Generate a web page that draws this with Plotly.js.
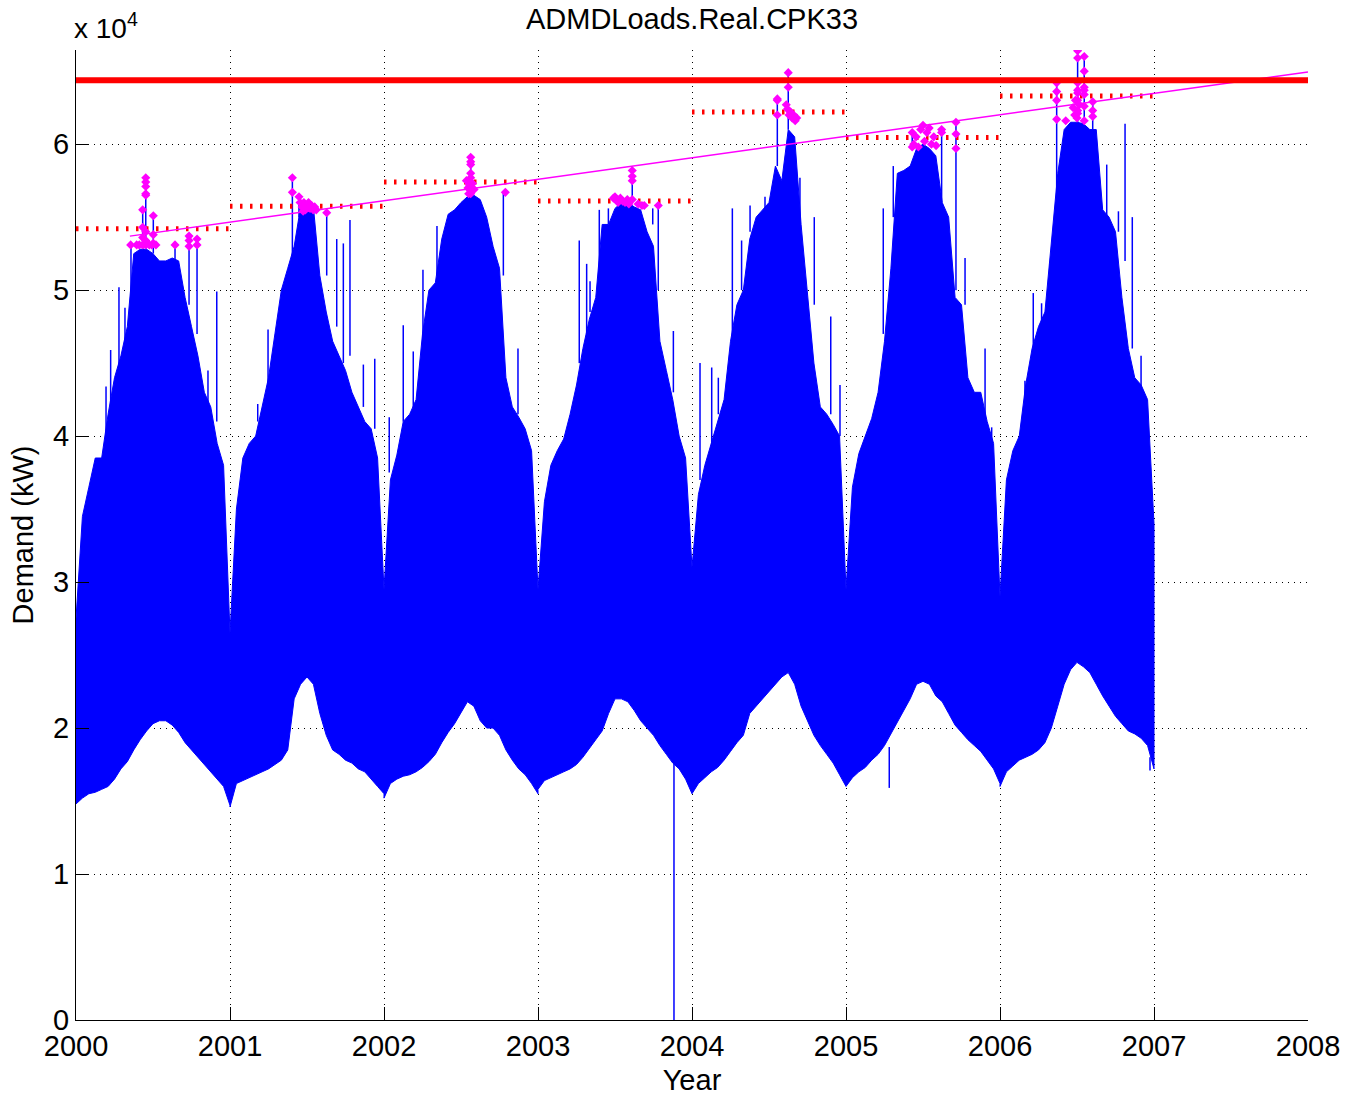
<!DOCTYPE html>
<html>
<head>
<meta charset="utf-8">
<script src="https://cdn.plot.ly/plotly-3.0.1.min.js"></script>
<style>
html,body{margin:0;padding:0;background:#fff;}
#chart{width:1345px;height:1096px;}
</style>
</head>
<body>
<div id="chart"></div>
<script>
// Values in units of 10^4 kW, sampled every 1/24 year (k = 0..24) per year
const years = [2000, 2001, 2002, 2003, 2004, 2005, 2006];

const hi2000 = [2.75,3.45,3.65,3.85,3.85,4.15,4.4,4.55,4.75,5.25,5.28,5.28,5.25,5.2,5.2,5.22,5.2,4.95,4.75,4.55,4.3,4.2,3.95,3.8,2.65];
const lo2000 = [1.48,1.52,1.55,1.56,1.58,1.6,1.65,1.72,1.77,1.85,1.92,1.98,2.03,2.05,2.05,2.02,1.97,1.9,1.85,1.8,1.75,1.7,1.65,1.6,1.47];
const hi2001 = [2.65,3.5,3.85,3.95,4.0,4.2,4.4,4.7,5.0,5.15,5.3,5.57,5.58,5.57,5.1,4.85,4.65,4.55,4.45,4.3,4.2,4.1,4.05,3.85,2.95];
const lo2001 = [1.46,1.62,1.64,1.66,1.68,1.7,1.72,1.75,1.78,1.85,2.2,2.3,2.35,2.3,2.1,1.95,1.85,1.82,1.78,1.76,1.72,1.7,1.65,1.6,1.55];
const hi2002 = [2.95,3.7,3.87,4.1,4.15,4.25,4.7,5.0,5.05,5.35,5.52,5.55,5.6,5.64,5.65,5.62,5.5,5.3,5.15,4.4,4.2,4.13,4.05,3.9,2.95];
const lo2002 = [1.52,1.62,1.65,1.67,1.68,1.7,1.73,1.77,1.82,1.9,1.97,2.03,2.1,2.18,2.15,2.05,2.0,2.0,1.95,1.85,1.78,1.72,1.68,1.62,1.55];
const hi2003 = [2.95,3.55,3.8,3.9,3.98,4.15,4.35,4.6,4.8,4.95,5.45,5.45,5.56,5.6,5.6,5.57,5.55,5.4,5.3,4.65,4.45,4.25,4.0,3.85,3.1];
const lo2003 = [1.58,1.64,1.66,1.68,1.7,1.72,1.75,1.8,1.86,1.92,1.98,2.1,2.2,2.2,2.18,2.12,2.05,2.0,1.95,1.88,1.82,1.76,1.72,1.65,1.55];
const hi2004 = [3.1,3.6,3.8,3.95,4.1,4.25,4.65,4.9,5.0,5.35,5.5,5.55,5.6,5.85,5.75,6.1,6.05,5.45,5.0,4.5,4.2,4.15,4.08,4.0,2.95];
const lo2004 = [1.55,1.62,1.66,1.7,1.73,1.78,1.84,1.9,1.95,2.1,2.15,2.2,2.25,2.3,2.35,2.38,2.3,2.15,2.05,1.95,1.88,1.82,1.76,1.68,1.6];
const hi2005 = [2.95,3.65,3.88,4.0,4.12,4.3,4.65,5.15,5.8,5.82,5.85,5.97,6.0,5.97,5.92,5.6,5.5,4.95,4.9,4.4,4.3,4.3,4.1,3.95,2.9];
const lo2005 = [1.6,1.66,1.7,1.73,1.78,1.82,1.88,1.96,2.05,2.12,2.2,2.3,2.32,2.3,2.22,2.18,2.1,2.02,1.97,1.92,1.88,1.84,1.78,1.72,1.62];
const hi2006 = [2.9,3.7,3.9,4.0,4.35,4.6,4.75,4.85,5.35,5.8,6.1,6.15,6.15,6.14,6.1,6.1,5.55,5.5,5.4,4.95,4.6,4.4,4.35,4.25,3.4];
const lo2006 = [1.6,1.7,1.74,1.78,1.8,1.82,1.85,1.9,2.0,2.15,2.3,2.4,2.45,2.42,2.38,2.3,2.22,2.15,2.08,2.03,1.98,1.96,1.93,1.88,1.72];

// Isolated spikes (decimal year, from value, to value)
const spikeX    = [2000.195,2000.225,2000.279,2000.318,2000.357,2000.433,2000.453,2000.502,2000.643,2000.734,2000.786,2000.857,2000.914,
                   2001.18,2001.247,2001.325,2001.405,2001.448,2001.628,2001.693,2001.736,2001.779,2001.866,2001.94,
                   2002.034,2002.125,2002.19,2002.253,2002.344,2002.563,2002.775,2002.87,
                   2003.268,2003.316,2003.338,2003.398,2003.457,2003.612,2003.745,2003.781,2003.879,2003.883,
                   2004.052,2004.128,2004.171,2004.262,2004.322,2004.377,2004.474,2004.554,2004.625,2004.701,2004.794,2004.901,2004.961,
                   2005.242,2005.281,2005.307,2005.43,2005.621,2005.714,2005.773,2005.903,2005.946,
                   2006.162,2006.216,2006.27,2006.325,2006.368,2006.504,2006.547,2006.602,2006.693,2006.769,2006.812,2006.859,2006.916,2006.974];
const spikeBase = [4.0,4.1,4.4,4.6,4.8,5.25,5.28,5.25,5.2,4.9,4.7,4.2,4.1,
                   4.1,4.35,4.7,5.2,5.5,5.1,4.75,4.5,4.55,4.2,4.05,
                   3.75,4.1,4.2,4.6,5.1,5.62,5.1,4.15,
                   4.5,4.7,4.85,4.95,5.45,5.6,5.45,5.0,4.3,1.85,
                   3.7,3.9,4.15,4.6,5.0,5.4,5.55,5.85,6.1,5.4,4.9,4.15,4.0,
                   4.7,1.87,5.5,5.97,5.6,5.0,4.9,4.1,3.95,
                   4.2,4.6,4.75,4.85,5.5,6.15,6.15,6.1,5.5,5.4,5.2,4.6,4.3,1.8];
const spikeTop  = [4.34,4.59,5.02,4.88,5.31,5.55,5.77,5.51,5.31,5.37,5.35,4.45,4.99,
                   4.22,4.73,4.85,5.77,5.64,5.53,5.35,5.32,5.48,4.49,4.53,
                   4.13,4.76,4.58,5.14,5.44,5.91,5.67,4.6,
                   5.34,5.18,5.06,5.55,5.56,5.82,5.56,5.58,4.72,0,
                   4.5,4.47,4.4,5.56,5.34,5.58,5.64,6.31,6.49,5.77,5.5,4.82,4.35,
                   5.56,1.59,5.85,6.08,6.1,6.15,5.22,4.6,4.06,
                   4.38,4.98,4.91,5.18,6.42,6.64,6.6,6.29,5.86,5.54,6.14,5.5,4.55,1.71];

// Highlighted peak points (magenta)
const markX = [2000.355,2000.394,2000.411,2000.433,2000.433,2000.433,2000.433,2000.453,2000.453,2000.453,2000.453,2000.453,2000.453,2000.453,2000.453,2000.476,2000.492,2000.502,2000.502,2000.502,2000.519,2000.643,2000.734,2000.734,2000.734,2000.786,2000.786,
  2001.405,2001.405,2001.448,2001.455,2001.468,2001.475,2001.48,2001.49,2001.5,2001.51,2001.52,2001.53,2001.54,2001.55,2001.56,2001.628,
  2002.563,2002.563,2002.563,2002.563,2002.563,2002.563,2002.563,2002.563,2002.563,2002.535,2002.545,2002.55,2002.555,2002.57,2002.575,2002.585,2002.788,
  2003.49,2003.5,2003.51,2003.52,2003.535,2003.55,2003.565,2003.58,2003.59,2003.612,2003.612,2003.612,2003.612,2003.65,2003.675,2003.69,2003.781,
  2004.554,2004.554,2004.554,2004.625,2004.625,2004.612,2004.62,2004.63,2004.64,2004.65,2004.66,2004.67,2004.68,
  2005.43,2005.43,2005.44,2005.455,2005.47,2005.485,2005.5,2005.51,2005.525,2005.54,2005.555,2005.57,2005.585,2005.621,2005.621,2005.714,2005.714,2005.714,
  2006.368,2006.368,2006.368,2006.368,2006.427,2006.504,2006.504,2006.504,2006.504,2006.504,2006.504,2006.504,2006.504,2006.475,2006.485,2006.49,2006.5,2006.515,2006.547,2006.547,2006.547,2006.547,2006.547,2006.547,2006.547,2006.602,2006.602,2006.602];
const markY = [5.31,5.31,5.31,5.31,5.55,5.43,5.36,5.77,5.74,5.71,5.66,5.65,5.4,5.34,5.31,5.31,5.31,5.51,5.38,5.32,5.31,5.31,5.37,5.34,5.30,5.35,5.31,
  5.77,5.67,5.64,5.6,5.57,5.54,5.6,5.55,5.58,5.6,5.56,5.58,5.55,5.57,5.55,5.53,
  5.91,5.88,5.86,5.8,5.77,5.74,5.71,5.68,5.66,5.75,5.7,5.66,5.72,5.68,5.73,5.69,5.67,
  5.63,5.64,5.62,5.6,5.63,5.61,5.6,5.62,5.59,5.82,5.78,5.75,5.62,5.59,5.58,5.58,5.58,
  6.31,6.30,6.2,6.49,6.39,6.27,6.24,6.2,6.22,6.18,6.2,6.16,6.18,
  6.08,5.98,6.0,6.05,5.98,6.1,6.13,6.02,6.08,6.11,6.0,6.05,5.99,6.1,6.08,6.15,6.07,5.97,
  6.42,6.36,6.3,6.17,6.16,6.64,6.59,6.42,6.37,6.35,6.3,6.23,6.21,6.25,6.2,6.3,6.18,6.27,6.6,6.5,6.39,6.37,6.34,6.26,6.16,6.29,6.23,6.19];

// Annual maximum reference levels (dotted red), overall limit (thick red), trend (magenta)
const annualLevel = [5.42, 5.575, 5.74, 5.61, 6.22, 6.045, 6.33];
const limitLevel = 6.438;
const trendX = [2000.35, 2008];
const trendY = [5.37, 6.495];

const xTicks = [2000,2001,2002,2003,2004,2005,2006,2007,2008];
const yTicks = [0,1,2,3,4,5,6];
const yTickText = ['0','1','2','3','4','5','6'];

const hiByYear = [hi2000,hi2001,hi2002,hi2003,hi2004,hi2005,hi2006];
const loByYear = [lo2000,lo2001,lo2002,lo2003,lo2004,lo2005,lo2006];

// Build blue load envelope polygon
const upX = [], upY = [], dnX = [], dnY = [];
years.forEach((yr, i) => {
  hiByYear[i].forEach((v, k) => { upX.push(yr + k/24); upY.push(v); });
  loByYear[i].forEach((v, k) => { dnX.push(yr + k/24); dnY.push(v); });
});
const polyX = upX.concat(dnX.slice().reverse());
const polyY = upY.concat(dnY.slice().reverse());

const sx = [], sy = [];
spikeX.forEach((x, i) => { sx.push(x, x, null); sy.push(spikeBase[i], spikeTop[i], null); });

const ax = [], ay = [];
years.forEach((yr, i) => { ax.push(yr, yr + 1, null); ay.push(annualLevel[i], annualLevel[i], null); });

const FONT = 'Liberation Sans, Arial, Helvetica, sans-serif';
const FS = 29;

const traces = [
  {type:'scatter', mode:'lines', x: polyX, y: polyY, fill:'toself', fillcolor:'#0000ff',
   line:{color:'#0000ff', width:1}, hoverinfo:'skip'},
  {type:'scatter', mode:'lines', x: sx, y: sy, line:{color:'#0000ff', width:1.5}, connectgaps:false},
  {type:'scatter', mode:'lines', x: ax, y: ay, line:{color:'#ff0000', width:5, dash:'2.5px,7.5px'}, connectgaps:false},
  {type:'scatter', mode:'lines', x: trendX, y: trendY, line:{color:'#ff00ff', width:1.5}},
  {type:'scatter', mode:'markers', x: markX, y: markY, marker:{color:'#ff00ff', size:7, symbol:'diamond'}},
  {type:'scatter', mode:'lines', x: [2000, 2008], y: [limitLevel, limitLevel], line:{color:'#ff0000', width:6}}
];

const axisCommon = {
  showgrid: true, gridcolor:'#000000', gridwidth:1, griddash:'1px,5px',
  showline: true, linecolor:'#000000', linewidth:1,
  ticks:'inside', ticklen:13, tickcolor:'#000000', tickwidth:1,
  zeroline:false, mirror:false,
  tickfont:{family:FONT, size:FS, color:'#000'}
};

const layout = {
  width:1345, height:1096,
  margin:{l:76, r:37, t:50, b:76},
  paper_bgcolor:'#fff', plot_bgcolor:'#fff',
  showlegend:false,
  font:{family:FONT, color:'#000'},
  title:{text:'ADMDLoads.Real.CPK33', font:{family:FONT, size:FS, color:'#000'},
         x:0.5, xref:'paper', xanchor:'center', y:1-19/1096, yref:'container', yanchor:'middle'},
  xaxis: Object.assign({}, axisCommon, {
    range:[2000, 2008], tickvals: xTicks, ticktext: xTicks.map(String),
    title:{text:'Year', font:{family:FONT, size:FS, color:'#000'}, standoff:8}
  }),
  yaxis: Object.assign({}, axisCommon, {
    range:[0, 6.645], tickvals: yTicks, ticktext: yTickText,
    title:{text:'Demand (kW)', font:{family:FONT, size:FS, color:'#000'}, standoff:10}
  }),
  annotations:[
    {text:'x 10<sup>4</sup>', xref:'paper', yref:'paper', x:0, y:1, xanchor:'left', yanchor:'bottom',
     yshift:4, xshift:-4, showarrow:false, font:{family:FONT, size:28, color:'#000'}}
  ]
};

Plotly.newPlot('chart', traces, layout, {staticPlot:true, displayModeBar:false});
</script>
</body>
</html>
